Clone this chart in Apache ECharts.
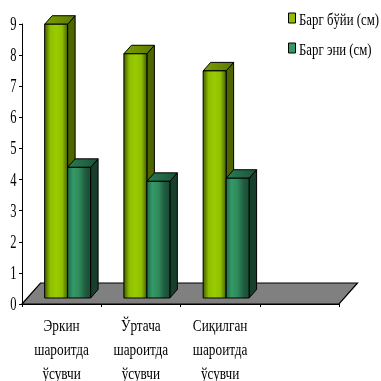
<!DOCTYPE html>
<html>
<head>
<meta charset="utf-8">
<style>html,body{margin:0;padding:0;background:#fff}#c{width:381px;height:381px}</style>
<script src="https://cdn.jsdelivr.net/npm/echarts@6/dist/echarts.min.js"></script>
</head>
<body>
<div id="c"></div>
<script>
// Leaf measurements by growing condition
const categories = ['Эркин\nшароитда\nўсувчи', 'Ўртача\nшароитда\nўсувчи', 'Сиқилган\nшароитда\nўсувчи', ''];
const leafLength = [8.8, 7.85, 7.3];
const leafWidth = [4.2, 3.75, 3.85];
const seriesNames = ['Барг бўйи (см)', 'Барг эни (см)'];
const yTicks = [0, 1, 2, 3, 4, 5, 6, 7, 8, 9];

const SERIF = '"Liberation Serif", "Times New Roman", serif';
const DEPTH_X = 18.5, DEPTH_Y = 21;       // full depth of the floor
const BAR_DX = 7.5, BAR_DY = 8.5;         // depth of a single bar
const FRONT_DX = 6, FRONT_DY = 6;         // gap between floor edge and bar front
const AXIS_SQUEEZE = 0.66, TEXT_SQUEEZE = 0.8;  // condensed look of the lettering

const yellow = {
  front: ['#3f5500', '#8fbf00', '#99cc00', '#8fbf00', '#3f5500'],
  top: ['#7a9e00', '#5c7a00'],
  side: '#4d6600'
};
const green = {
  front: ['#1f6647', '#339966', '#2f8a5c', '#1f5c40', '#174a33'],
  top: ['#2a7d55', '#1a5238'],
  side: '#17402c'
};

function stops(list) {
  return list.map((color, i) => ({ offset: i / (list.length - 1), color }));
}

// One 3-D column: front face, top face and right side, all placed from the value axis
function columnRenderer(palette, slot) {
  return function (params, api) {
    const band = api.size([1, 0])[0];
    const w = band * 0.29;
    const base = api.coord([api.value(0), 0]);
    const top = api.coord([api.value(0), api.value(1)]);
    const x0 = base[0] + FRONT_DX + (slot === 0 ? -w : 0);
    const x1 = x0 + w;
    const yb = base[1] - FRONT_DY;
    const yt = top[1] - FRONT_DY;
    const line = { stroke: '#000', lineWidth: 1 };
    return {
      type: 'group',
      children: [
        {
          type: 'polygon',
          shape: { points: [[x1, yt], [x1 + BAR_DX, yt - BAR_DY], [x1 + BAR_DX, yb - BAR_DY], [x1, yb]] },
          style: Object.assign({ fill: palette.side }, line)
        },
        {
          type: 'polygon',
          shape: { points: [[x0, yt], [x0 + BAR_DX, yt - BAR_DY], [x1 + BAR_DX, yt - BAR_DY], [x1, yt]] },
          style: Object.assign({
            fill: { type: 'linear', x: 0, y: 0, x2: 1, y2: 0, colorStops: stops(palette.top) }
          }, line)
        },
        {
          type: 'rect',
          shape: { x: x0, y: yt, width: w, height: yb - yt },
          style: Object.assign({
            fill: { type: 'linear', x: 0, y: 0, x2: 1, y2: 0, colorStops: stops(palette.front) }
          }, line)
        }
      ]
    };
  };
}

// Grey floor parallelogram spanning the whole category axis
function floorRenderer(params, api) {
  const band = api.size([1, 0])[0];
  const first = api.coord([0, 0]);
  const left = [first[0] - band / 2, first[1]];
  const right = [left[0] + band * categories.length, first[1]];
  return {
    type: 'polygon',
    shape: {
      points: [left, [left[0] + DEPTH_X, left[1] - DEPTH_Y], [right[0] + DEPTH_X, right[1] - DEPTH_Y], right]
    },
    style: { fill: '#808080', stroke: '#000', lineWidth: 1.2 }
  };
}

function yLabelRenderer(params, api) {
  const band = api.size([1, 0])[0];
  const p = api.coord([0, api.value(0)]);
  return {
    type: 'text',
    x: p[0] - band / 2 - 8.5, y: p[1] + 1,
    scaleX: AXIS_SQUEEZE,
    style: { text: String(api.value(0)), font: '19px ' + SERIF, fill: '#000', align: 'center', verticalAlign: 'middle' }
  };
}

function xLabelRenderer(params, api) {
  const p = api.coord([params.dataIndex, 0]);
  return {
    type: 'text',
    x: p[0], y: p[1] + 11,
    scaleX: 0.78,
    style: { text: categories[params.dataIndex], font: '17px ' + SERIF, lineHeight: 24, fill: '#000', align: 'center', verticalAlign: 'top' }
  };
}

function legendEntry(index, top) {
  const color = index === 0 ? yellow : green;
  return [
    {
      type: 'rect',
      shape: { x: 288.5, y: top, width: 7, height: 10 },
      style: { fill: color.front[1], stroke: '#000', lineWidth: 1 }
    },
    {
      type: 'text',
      x: 299, y: top + 8,
      scaleX: TEXT_SQUEEZE,
      style: { text: seriesNames[index], font: '16px ' + SERIF, fill: '#000', align: 'left', verticalAlign: 'middle' }
    }
  ];
}

const chart = echarts.init(document.getElementById('c'), null, { renderer: 'canvas' });
chart.setOption({
  animation: false,
  backgroundColor: '#fff',
  grid: { left: 22, top: 24, width: 317, height: 280 },
  xAxis: {
    type: 'category',
    data: categories,
    boundaryGap: true,
    axisLine: { lineStyle: { color: '#000', width: 1 } },
    axisTick: { show: true, alignWithLabel: false, length: 3, interval: 0, lineStyle: { color: '#000' } },
    axisLabel: { show: false },
    splitLine: { show: false }
  },
  yAxis: {
    type: 'value',
    min: 0,
    max: 9,
    interval: 1,
    axisLine: { show: true, lineStyle: { color: '#000', width: 1 } },
    axisTick: { show: true, length: 3, lineStyle: { color: '#000' } },
    axisLabel: { show: false },
    splitLine: { show: false }
  },
  graphic: [...legendEntry(0, 13), ...legendEntry(1, 43)],
  series: [
    { type: 'custom', name: 'floor', data: [[0, 0]], clip: false, z: 1, renderItem: floorRenderer, silent: true },
    { type: 'custom', name: seriesNames[0], z: 2, clip: false, renderItem: columnRenderer(yellow, 0),
      data: leafLength.map((v, i) => [i, v]) },
    { type: 'custom', name: seriesNames[1], z: 3, clip: false, renderItem: columnRenderer(green, 1),
      data: leafWidth.map((v, i) => [i, v]) },
    { type: 'custom', name: 'y labels', z: 4, clip: false, renderItem: yLabelRenderer, silent: true,
      data: yTicks.map(v => [v]), encode: { y: 0 } },
    { type: 'custom', name: 'x labels', z: 4, clip: false, renderItem: xLabelRenderer, silent: true,
      data: categories.map((c, i) => [i, 0]) }
  ]
});
</script>
</body>
</html>
